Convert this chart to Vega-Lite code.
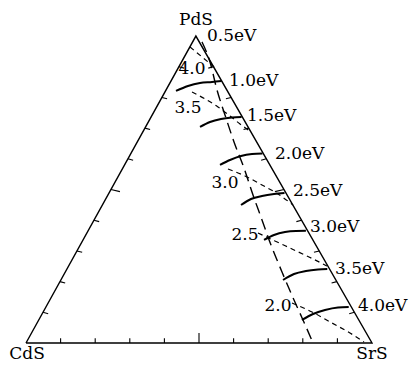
{
  "$schema": "https://vega.github.io/schema/vega-lite/v6.json",
  "width": 346,
  "height": 308,
  "autosize": {"type": "none"},
  "padding": {"left": 26, "top": 35, "right": 38, "bottom": 22},
  "background": "white",
  "config": {"view": {"stroke": null}},
  "datasets": {
    "tri": [
      {"i": 0, "x": 0, "y": 0},
      {"i": 1, "x": 100, "y": 0},
      {"i": 2, "x": 49.1, "y": 88.7},
      {"i": 3, "x": 0, "y": 0}
    ],
    "ticks": [
      {"x": 10, "y": 0, "x2": 10, "y2": 1.4},
      {"x": 20, "y": 0, "x2": 20, "y2": 1.4},
      {"x": 30, "y": 0, "x2": 30, "y2": 1.4},
      {"x": 40, "y": 0, "x2": 40, "y2": 1.4},
      {"x": 50, "y": 0, "x2": 50, "y2": 2.9},
      {"x": 60, "y": 0, "x2": 60, "y2": 1.4},
      {"x": 70, "y": 0, "x2": 70, "y2": 1.4},
      {"x": 80, "y": 0, "x2": 80, "y2": 1.4},
      {"x": 90, "y": 0, "x2": 90, "y2": 1.4},
      {"x": 4.91, "y": 8.87, "x2": 6.41, "y2": 8.47},
      {"x": 9.82, "y": 17.74, "x2": 11.32, "y2": 17.34},
      {"x": 14.73, "y": 26.61, "x2": 16.23, "y2": 26.21},
      {"x": 19.64, "y": 35.48, "x2": 21.14, "y2": 35.08},
      {"x": 24.55, "y": 44.35, "x2": 27.15, "y2": 43.75},
      {"x": 29.46, "y": 53.22, "x2": 30.96, "y2": 52.82},
      {"x": 34.37, "y": 62.09, "x2": 35.87, "y2": 61.69},
      {"x": 39.28, "y": 70.96, "x2": 40.78, "y2": 70.56},
      {"x": 44.19, "y": 79.83, "x2": 45.69, "y2": 79.43},
      {"x": 94.91, "y": 8.87, "x2": 93.41, "y2": 8.47},
      {"x": 89.82, "y": 17.74, "x2": 88.32, "y2": 17.34},
      {"x": 84.73, "y": 26.61, "x2": 83.23, "y2": 26.21},
      {"x": 79.64, "y": 35.48, "x2": 78.14, "y2": 35.08},
      {"x": 74.55, "y": 44.35, "x2": 71.95, "y2": 43.75},
      {"x": 69.46, "y": 53.22, "x2": 67.96, "y2": 52.82},
      {"x": 64.37, "y": 62.09, "x2": 62.87, "y2": 61.69},
      {"x": 59.28, "y": 70.96, "x2": 57.78, "y2": 70.56},
      {"x": 54.19, "y": 79.83, "x2": 52.69, "y2": 79.43}
    ],
    "arcs": [
      {"e": "1.0", "i": 0, "x": 43.35, "y": 72.83},
      {"e": "1.0", "i": 1, "x": 46.82, "y": 74.28},
      {"e": "1.0", "i": 2, "x": 50.29, "y": 75.14},
      {"e": "1.0", "i": 3, "x": 53.76, "y": 75.43},
      {"e": "1.0", "i": 4, "x": 56.5, "y": 75.72},
      {"e": "1.5", "i": 0, "x": 50.29, "y": 62.43},
      {"e": "1.5", "i": 1, "x": 53.18, "y": 63.87},
      {"e": "1.5", "i": 2, "x": 56.36, "y": 64.74},
      {"e": "1.5", "i": 3, "x": 59.54, "y": 65.17},
      {"e": "1.5", "i": 4, "x": 62.31, "y": 65.32},
      {"e": "2.0", "i": 0, "x": 56.07, "y": 51.45},
      {"e": "2.0", "i": 1, "x": 58.96, "y": 52.89},
      {"e": "2.0", "i": 2, "x": 62.14, "y": 54.05},
      {"e": "2.0", "i": 3, "x": 65.32, "y": 54.62},
      {"e": "2.0", "i": 4, "x": 68.35, "y": 54.77},
      {"e": "2.5", "i": 0, "x": 62.14, "y": 39.88},
      {"e": "2.5", "i": 1, "x": 65.03, "y": 41.62},
      {"e": "2.5", "i": 2, "x": 68.21, "y": 42.49},
      {"e": "2.5", "i": 3, "x": 71.68, "y": 43.06},
      {"e": "2.5", "i": 4, "x": 74.71, "y": 43.35},
      {"e": "3.0", "i": 0, "x": 68.79, "y": 29.77},
      {"e": "3.0", "i": 1, "x": 71.68, "y": 31.21},
      {"e": "3.0", "i": 2, "x": 74.86, "y": 32.08},
      {"e": "3.0", "i": 3, "x": 78.03, "y": 32.37},
      {"e": "3.0", "i": 4, "x": 80.9, "y": 32.4},
      {"e": "3.5", "i": 0, "x": 74.28, "y": 18.21},
      {"e": "3.5", "i": 1, "x": 77.46, "y": 19.94},
      {"e": "3.5", "i": 2, "x": 80.92, "y": 20.81},
      {"e": "3.5", "i": 3, "x": 84.39, "y": 21.24},
      {"e": "3.5", "i": 4, "x": 87.08, "y": 21.39},
      {"e": "4.0", "i": 0, "x": 79.77, "y": 6.65},
      {"e": "4.0", "i": 1, "x": 82.95, "y": 8.38},
      {"e": "4.0", "i": 2, "x": 86.42, "y": 9.54},
      {"e": "4.0", "i": 3, "x": 90.17, "y": 10.26},
      {"e": "4.0", "i": 4, "x": 93.27, "y": 10.4}
    ],
    "contours": [
      {"c": "4.0", "i": 0, "x": 47.4, "y": 85.55},
      {"c": "4.0", "i": 1, "x": 50.87, "y": 82.66},
      {"c": "4.0", "i": 2, "x": 54.34, "y": 79.77},
      {"c": "3.5", "i": 0, "x": 47.98, "y": 72.54},
      {"c": "3.5", "i": 1, "x": 51.73, "y": 70.52},
      {"c": "3.5", "i": 2, "x": 55.49, "y": 68.21},
      {"c": "3.5", "i": 3, "x": 58.96, "y": 65.61},
      {"c": "3.5", "i": 4, "x": 61.85, "y": 63.29},
      {"c": "3.5", "i": 5, "x": 65.03, "y": 60.98},
      {"c": "3.0", "i": 0, "x": 58.38, "y": 50.29},
      {"c": "3.0", "i": 1, "x": 63.29, "y": 48.27},
      {"c": "3.0", "i": 2, "x": 68.21, "y": 45.66},
      {"c": "3.0", "i": 3, "x": 72.83, "y": 43.06},
      {"c": "3.0", "i": 4, "x": 77.17, "y": 39.88},
      {"c": "2.5", "i": 0, "x": 67.05, "y": 31.79},
      {"c": "2.5", "i": 1, "x": 71.97, "y": 29.48},
      {"c": "2.5", "i": 2, "x": 76.88, "y": 27.17},
      {"c": "2.5", "i": 3, "x": 81.79, "y": 24.86},
      {"c": "2.5", "i": 4, "x": 86.99, "y": 22.25},
      {"c": "2.0", "i": 0, "x": 76.88, "y": 11.56},
      {"c": "2.0", "i": 1, "x": 82.66, "y": 8.96},
      {"c": "2.0", "i": 2, "x": 88.44, "y": 5.78},
      {"c": "2.0", "i": 3, "x": 93.64, "y": 2.89},
      {"c": "2.0", "i": 4, "x": 97.69, "y": 0.29}
    ],
    "boundary": [
      {"i": 0, "x": 50.87, "y": 87.0},
      {"i": 1, "x": 53.18, "y": 81.21},
      {"i": 2, "x": 55.2, "y": 73.12},
      {"i": 3, "x": 57.51, "y": 65.9},
      {"i": 4, "x": 60.12, "y": 58.09},
      {"i": 5, "x": 63.01, "y": 50.58},
      {"i": 6, "x": 65.61, "y": 42.77},
      {"i": 7, "x": 68.21, "y": 35.55},
      {"i": 8, "x": 70.81, "y": 28.32},
      {"i": 9, "x": 73.99, "y": 20.52},
      {"i": 10, "x": 77.46, "y": 12.43},
      {"i": 11, "x": 80.06, "y": 6.65},
      {"i": 12, "x": 82.95, "y": 0}
    ],
    "evlabels": [
      {"t": "0.5eV", "x": 52.31, "y": 88.73},
      {"t": "1.0eV", "x": 58.67, "y": 75.72},
      {"t": "1.5eV", "x": 63.87, "y": 65.61},
      {"t": "2.0eV", "x": 71.97, "y": 54.62},
      {"t": "2.5eV", "x": 77.17, "y": 43.93},
      {"t": "3.0eV", "x": 82.08, "y": 33.53},
      {"t": "3.5eV", "x": 89.31, "y": 21.39},
      {"t": "4.0eV", "x": 95.95, "y": 10.69}
    ],
    "clabels": [
      {"t": "4.0", "x": 47.98, "y": 79.19},
      {"t": "3.5", "x": 46.82, "y": 67.92},
      {"t": "3.0", "x": 57.51, "y": 46.24},
      {"t": "2.5", "x": 63.29, "y": 31.21},
      {"t": "2.0", "x": 72.83, "y": 10.69}
    ],
    "vlabels": [
      {"t": "PdS", "x": 49.13, "y": 93.35},
      {"t": "CdS", "x": 0.29, "y": -3.18},
      {"t": "SrS", "x": 100, "y": -3.18}
    ]
  },
  "encoding": {
    "x": {"field": "x", "type": "quantitative", "scale": {"domain": [0, 100]}, "axis": null},
    "y": {"field": "y", "type": "quantitative", "scale": {"domain": [0, 89]}, "axis": null}
  },
  "layer": [
    {
      "data": {"name": "tri"},
      "mark": {"type": "line", "stroke": "black", "strokeWidth": 1.4},
      "encoding": {"order": {"field": "i", "type": "quantitative"}}
    },
    {
      "data": {"name": "ticks"},
      "mark": {"type": "rule", "stroke": "black", "strokeWidth": 1.1},
      "encoding": {
        "x2": {"field": "x2"},
        "y2": {"field": "y2"}
      }
    },
    {
      "data": {"name": "arcs"},
      "mark": {"type": "line", "stroke": "black", "strokeWidth": 2, "interpolate": "monotone"},
      "encoding": {
        "detail": {"field": "e", "type": "nominal"},
        "order": {"field": "i", "type": "quantitative"}
      }
    },
    {
      "data": {"name": "contours"},
      "mark": {"type": "line", "stroke": "black", "strokeWidth": 1.2, "strokeDash": [5, 4], "interpolate": "monotone"},
      "encoding": {
        "detail": {"field": "c", "type": "nominal"},
        "order": {"field": "i", "type": "quantitative"}
      }
    },
    {
      "data": {"name": "boundary"},
      "mark": {"type": "line", "stroke": "black", "strokeWidth": 1.4, "strokeDash": [11, 6], "interpolate": "monotone"},
      "encoding": {"order": {"field": "i", "type": "quantitative"}}
    },
    {
      "data": {"name": "evlabels"},
      "mark": {"type": "text", "font": "DejaVu Serif", "fontSize": 17, "align": "left", "baseline": "middle", "fill": "black"},
      "encoding": {"text": {"field": "t"}}
    },
    {
      "data": {"name": "clabels"},
      "mark": {"type": "text", "font": "DejaVu Serif", "fontSize": 17, "align": "center", "baseline": "middle", "fill": "black"},
      "encoding": {"text": {"field": "t"}}
    },
    {
      "data": {"name": "vlabels"},
      "mark": {"type": "text", "font": "DejaVu Serif", "fontSize": 17, "align": "center", "baseline": "middle", "fill": "black"},
      "encoding": {"text": {"field": "t"}}
    }
  ]
}
